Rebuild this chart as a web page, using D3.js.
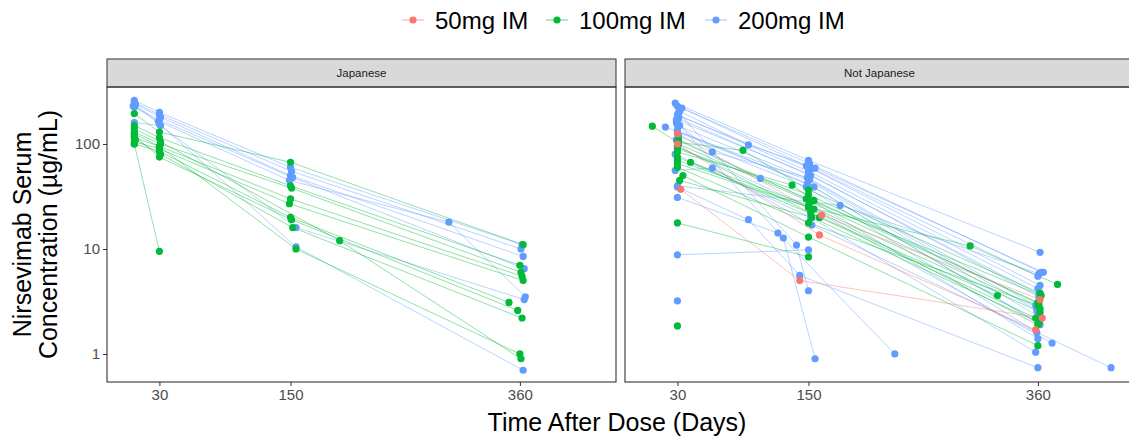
<!DOCTYPE html>
<html><head><meta charset="utf-8">
<script src="https://cdn.jsdelivr.net/npm/d3@7"></script>
<style>
body{margin:0;background:#fff}
svg{display:block}
text{font-family:"Liberation Sans",Arial,Helvetica,sans-serif}
</style>
</head><body>
<svg id="chart" width="1129" height="439"></svg>
<script>
// Facets, dose groups and axis ticks
const facets = ["Japanese", "Not Japanese"];
const doseLabels = ["50mg IM", "100mg IM", "200mg IM"];
const doseColors = ["#F8766D", "#00BA38", "#619CFF"];
const xTickValues = [30, 150, 360];
const yTickValues = [1, 10, 100];

// Individual concentration profiles: each subject is a list of [day, µg/mL]
const japanese100 = [
  [[7,195],[30,130],[150,67],[363,11]],
  [[7,150],[30,115],[150,40],[360,7]],
  [[7,130],[31,100],[151,38],[361,6]],
  [[7,115],[30,95],[150,30],[362,5.5]],
  [[7,105],[30,90],[149,27],[363,5]],
  [[7,100],[30,85],[150,20],[350,3.1]],
  [[7,120],[30,75],[151,19],[358,2.6]],
  [[7,100],[30,9.5]],
  [[8,110],[31,80],[152,16],[362,2.2]],
  [[7,125],[30,95],[155,10],[360,1.0]],
  [[7,140],[31,105],[195,12],[361,0.9]]
];
const japanese200 = [
  [[7,260],[30,200],[150,60],[362,11]],
  [[7,250],[30,190],[151,55],[361,10]],
  [[8,240],[31,180],[150,50],[363,8.5]],
  [[6,230],[30,170],[152,48],[364,6.5]],
  [[7,225],[29,165],[149,45],[295,18],[365,3.5]],
  [[7,160],[31,150],[155,16],[364,3.3]],
  [[8,235],[30,155],[155,10.5],[363,0.7]]
];
const other50 = [
  [[30,125],[162,21],[362,3.3]],
  [[33,37],[142,5.0],[364,2.2]],
  [[30,100],[160,13.6],[358,1.7]]
];
const other100 = [
  [[7,148],[30,104],[90,87],[150,36.6],[362,3.8]],
  [[30,84],[135,40.6],[155,29],[360,3.1]],
  [[30,70],[150,25],[298,10.7],[378,4.6]],
  [[42,67],[150,26],[362,2.5]],
  [[32,45],[153,20],[361,2.0]],
  [[30,17.7],[150,8.4]],
  [[30,1.85]],
  [[30,95],[152,22],[323,3.6]],
  [[30,60],[150,17.7],[360,2.9]],
  [[35,50],[150,13],[360,1.2]],
  [[30,75],[160,20],[358,2.2]],
  [[31,110],[148,30],[363,3.6]],
  [[30,90],[150,33],[361,3.0]],
  [[31,100],[152,28],[362,2.7]],
  [[30,65],[155,24],[360,1.9]]
];
const other200 = [
  [[28,245],[150,70],[362,9.3]],
  [[34,220],[151,65],[363,6.0]],
  [[32,205],[95,98],[156,59],[365,6.0]],
  [[30,190],[150,55],[360,4.2]],
  [[31,175],[152,50],[361,3.7]],
  [[29,160],[62,84],[149,48],[358,2.9]],
  [[19,145],[150,45],[360,2.3]],
  [[30,135],[155,39],[362,1.9]],
  [[31,120],[148,39],[359,1.6]],
  [[29,110],[106,47],[150,30],[360,1.4]],
  [[30,95],[150,25],[373,1.27]],
  [[28,80],[152,20],[358,1.04]],
  [[28,56],[62,59],[153,16.9],[427,0.74]],
  [[30,39],[95,19],[142,5.6],[360,0.74]],
  [[30,31],[122,14.2],[229,1.0]],
  [[30,8.8],[150,9.8]],
  [[30,3.2]],
  [[32,150],[127,12.7],[156,0.9]],
  [[31,200],[139,10.9],[150,4.0]],
  [[30,40],[179,26],[361,5.8]],
  [[30,230],[148,62],[360,5.5]],
  [[31,185],[153,58],[362,4.5]],
  [[29,170],[150,52],[361,3.5]],
  [[30,150],[151,46],[359,2.6]],
  [[30,130],[149,42],[360,2.0]]
];

const groups = [
  {facet: 0, dose: 2, subjects: japanese200},
  {facet: 0, dose: 1, subjects: japanese100},
  {facet: 1, dose: 2, subjects: other200},
  {facet: 1, dose: 1, subjects: other100},
  {facet: 1, dose: 0, subjects: other50}
];

// Layout
const panelLeft = [107, 625];
const panelW = 509;
const panelTop = 87, panelBottom = 382;
const stripTop = 59;

const svg = d3.select("#chart");
svg.append("rect").attr("width", 1129).attr("height", 439).attr("fill", "#fff");

const x = d3.scaleLinear().domain([-18, 448]).range([0, panelW]);
const y = d3.scaleLog().domain([Math.pow(10, -0.267), Math.pow(10, 2.543)]).range([panelBottom, panelTop]);

const line = d3.line().x(d => x(d[0])).y(d => y(d[1]));

facets.forEach((name, i) => {
  const g = svg.append("g").attr("transform", `translate(${panelLeft[i]},0)`);
  // strip
  g.append("rect").attr("x", 0).attr("y", stripTop).attr("width", panelW).attr("height", panelTop - stripTop)
    .attr("fill", "#d9d9d9").attr("stroke", "#333").attr("stroke-width", 1);
  g.append("text").attr("x", panelW / 2).attr("y", (stripTop + panelTop) / 2 + 4)
    .attr("text-anchor", "middle").attr("font-size", 11.5).attr("fill", "#1a1a1a").text(name);
  // x axis
  const xa = g.append("g").attr("transform", `translate(0,${panelBottom})`)
    .call(d3.axisBottom(x).tickValues(xTickValues).tickSize(4).tickPadding(3).tickFormat(d3.format("d")));
  xa.select(".domain").remove();
  xa.selectAll("line").attr("stroke", "#333");
  xa.selectAll("text").attr("font-size", 15).attr("fill", "#4d4d4d").attr("font-family", null);
  if (i === 0) {
    const ya = g.append("g")
      .call(d3.axisLeft(y).tickValues(yTickValues).tickSize(4).tickPadding(3).tickFormat(d3.format("d")));
    ya.select(".domain").remove();
    ya.selectAll("line").attr("stroke", "#333");
    ya.selectAll("text").attr("font-size", 15).attr("fill", "#4d4d4d").attr("font-family", null);
  }
});

// profiles
const plot = svg.append("g");
groups.forEach(gr => {
  const gg = plot.append("g").attr("transform", `translate(${panelLeft[gr.facet]},0)`);
  gr.subjects.forEach(s => {
    if (s.length > 1)
      gg.append("path").attr("d", line(s)).attr("fill", "none")
        .attr("stroke", doseColors[gr.dose]).attr("stroke-width", 0.8).attr("stroke-opacity", 0.55);
  });
});
groups.forEach(gr => {
  const gg = plot.append("g").attr("transform", `translate(${panelLeft[gr.facet]},0)`);
  gr.subjects.forEach(s => {
    gg.selectAll(null).data(s).join("circle")
      .attr("cx", d => x(d[0])).attr("cy", d => y(d[1])).attr("r", 3.6)
      .attr("fill", doseColors[gr.dose]);
  });
});

// panel borders
facets.forEach((name, i) => {
  svg.append("rect").attr("x", panelLeft[i]).attr("y", panelTop).attr("width", panelW).attr("height", panelBottom - panelTop)
    .attr("fill", "none").attr("stroke", "#333").attr("stroke-width", 1.1);
});

// axis titles
svg.append("text").attr("x", 617).attr("y", 431).attr("text-anchor", "middle")
  .attr("font-size", 25).attr("fill", "#000").text("Time After Dose (Days)");
const yt = svg.append("text").attr("transform", `translate(0,${(panelTop + panelBottom) / 2}) rotate(-90)`)
  .attr("text-anchor", "middle").attr("font-size", 25).attr("fill", "#000");
yt.append("tspan").attr("x", 0).attr("y", 31).text("Nirsevimab Serum");
yt.append("tspan").attr("x", 0).attr("y", 57).text("Concentration (µg/mL)");

// legend
const legendX = [402, 546, 705];
const lg = svg.append("g");
doseLabels.forEach((lab, i) => {
  const k = lg.append("g").attr("transform", `translate(${legendX[i]},20)`);
  k.append("line").attr("x1", 0).attr("x2", 22).attr("stroke", doseColors[i]).attr("stroke-width", 1.2).attr("stroke-opacity", 0.5);
  k.append("circle").attr("cx", 11).attr("r", 3.6).attr("fill", doseColors[i]);
  k.append("text").attr("x", 33).attr("y", 8.5).attr("font-size", 24).attr("fill", "#000").text(lab);
});
</script>
</body></html>
